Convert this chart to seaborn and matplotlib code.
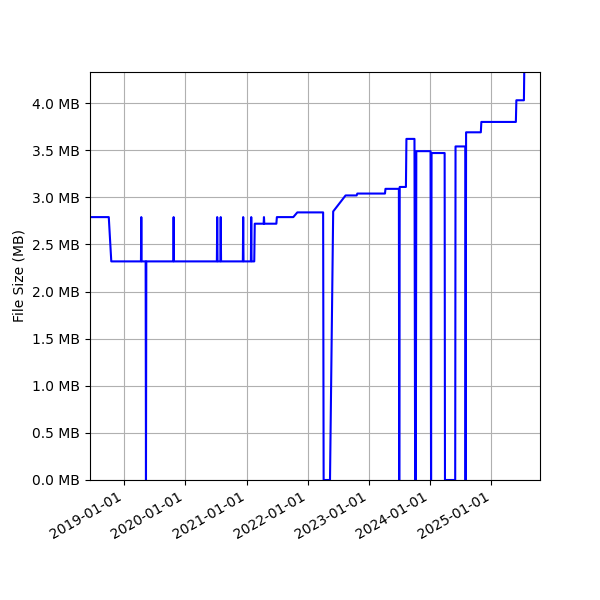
import pandas as pd
import seaborn as sns
import matplotlib
matplotlib.use("Agg")
import matplotlib.pyplot as plt
import matplotlib.dates as mdates
from matplotlib.ticker import FuncFormatter

# file size history (MB)
dates = [
    "2018-06-12", "2018-10-02", "2018-10-17",
    "2019-04-12", "2019-04-14", "2019-04-16",
    "2019-05-10", "2019-05-12", "2019-05-14",
    "2019-10-22", "2019-10-24", "2019-10-26",
    "2020-07-08", "2020-07-10", "2020-07-12",
    "2020-07-29", "2020-07-31", "2020-08-02",
    "2020-12-10", "2020-12-12", "2020-12-14",
    "2021-01-27", "2021-01-29", "2021-01-31",
    "2021-02-16", "2021-02-19",
    "2021-04-13", "2021-04-15", "2021-04-17",
    "2021-06-28", "2021-07-01",
    "2021-10-07", "2021-10-31",
    "2022-04-03", "2022-04-06", "2022-05-14", "2022-06-02",
    "2022-08-15", "2022-10-20", "2022-10-24",
    "2023-04-07", "2023-04-10",
    "2023-06-29", "2023-07-01", "2023-07-04",
    "2023-08-10", "2023-08-13",
    "2023-09-30", "2023-10-04", "2023-10-08", "2023-10-11",
    "2024-01-04", "2024-01-07", "2024-01-10",
    "2024-03-28", "2024-03-30", "2024-05-30", "2024-06-01",
    "2024-07-29", "2024-07-31", "2024-08-03",
    "2024-10-30", "2024-11-02",
    "2025-05-27", "2025-05-30",
    "2025-07-14", "2025-07-16",
]
sizes_mb = [
    2.79, 2.79, 2.32,
    2.32, 2.79, 2.32,
    2.32, 0.0, 2.32,
    2.32, 2.79, 2.32,
    2.32, 2.79, 2.32,
    2.32, 2.79, 2.32,
    2.32, 2.79, 2.32,
    2.32, 2.79, 2.32,
    2.32, 2.72,
    2.72, 2.79, 2.72,
    2.72, 2.79,
    2.79, 2.84,
    2.84, 0.0, 0.0, 2.85,
    3.02, 3.02, 3.04,
    3.04, 3.09,
    3.09, 0.0, 3.11,
    3.11, 3.62,
    3.62, 0.0, 0.0, 3.49,
    3.49, 0.0, 3.47,
    3.47, 0.0, 0.0, 3.54,
    3.54, 0.0, 3.69,
    3.69, 3.80,
    3.80, 4.03,
    4.03, 4.33,
]

df = pd.DataFrame({"Date": pd.to_datetime(dates), "Size": sizes_mb})

fig, ax = plt.subplots(figsize=(6, 6), dpi=100)
sns.lineplot(x="Date", y="Size", data=df, color="blue", linewidth=1.5,
             estimator=None, sort=False, ax=ax)

ax.set_xlim(pd.Timestamp("2018-06-12"), pd.Timestamp("2025-10-18"))
ax.set_ylim(0, 4.33)
ax.yaxis.set_major_formatter(FuncFormatter(lambda v, p: f"{v:.1f} MB"))
ax.xaxis.set_major_locator(mdates.YearLocator())
ax.xaxis.set_major_formatter(mdates.DateFormatter("%Y-%m-%d"))
ax.set_xlabel("")
ax.set_ylabel("File Size (MB)")
ax.grid(True)

fig.autofmt_xdate()
fig.subplots_adjust(left=0.15, right=0.9, top=0.88, bottom=0.2)
fig.savefig("out.png")
